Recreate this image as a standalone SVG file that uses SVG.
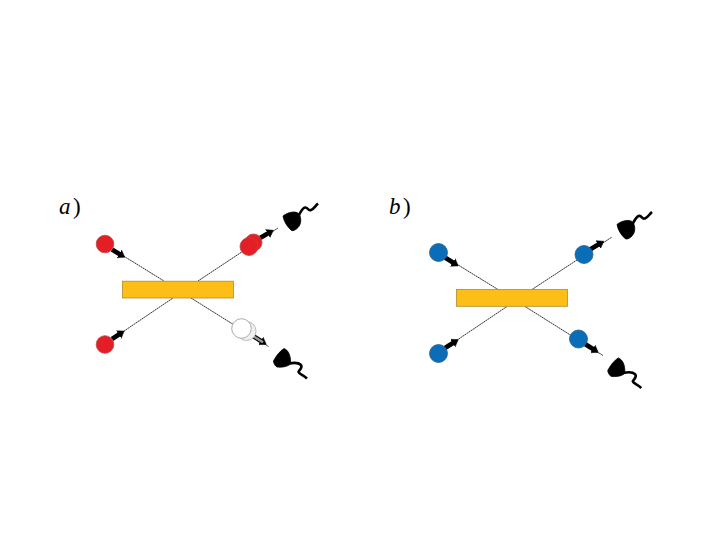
<svg xmlns="http://www.w3.org/2000/svg" xmlns:xlink="http://www.w3.org/1999/xlink" width="717" height="556" viewBox="0 0 717 556">
<style>
.bg{fill:#fff}
.beam{fill:none;stroke:#000;stroke-width:.8;stroke-dasharray:2 .5}
.plate{fill:#fdbf17;stroke:#b08d2a;stroke-width:.8}
.red{fill:#e31e24;stroke:#b9484a;stroke-width:.8}
.blue{fill:#0b6cb8;stroke:#27608f;stroke-width:.8}
.ghost{fill:#fff;stroke:#aaa;stroke-width:1}
.ghost2{fill:#f1f1ee;stroke:#bbb;stroke-width:1}
.arrow{fill:none;stroke:#000;stroke-width:4.600;marker-end:url(#head)}
.arrowg{fill:none;stroke:#999;stroke-width:2.400}
.dome{fill:#000;stroke:#000;stroke-width:.8;stroke-linejoin:round}
.tail{fill:none;stroke:#000;stroke-width:2.600;stroke-linejoin:round}
text{font-family:"Liberation Serif",serif;font-size:23px;fill:#000}
.it{font-style:italic}
</style>
<defs>
<marker id="head" markerUnits="userSpaceOnUse" markerWidth="12" markerHeight="12" refX="2" refY="5" orient="auto"><path d="M0 .5L6.500 5L0 9.500Z" fill="#000" stroke="#000" stroke-width=".4"/></marker>
<g id="detTop">
<path class="dome" d="M283 216C288 212 296 210.500 299 214C301.500 218 301.500 224 298 227.500C296 230 293 231 291.500 230.500C287.500 227 284 222 283 216Z"/>
<path class="tail" d="M298 217C300 213 302 208 305 207.500C308 207 308 211.500 311 210C314 209 315 206 318 203.500"/>
</g>
<g id="detBot">
<path class="dome" d="M273.500 361C276 356 280 351 284 348.500C288 350 291 355 290.500 364C287 367 281 367.500 277 367C275 366 273.500 363 273.500 361Z"/>
<path class="tail" d="M289 363.500C294 362.500 299 363 301 365C303 368 299 370 298.500 372C299 374 303 375 307 378.500"/>
</g>
</defs>
<rect class="bg" width="717" height="556"/>
<g id="connectors">
<path class="beam" d="M113 249.500L164 281"/>
<path class="beam" d="M113 338.500L173 298"/>
<path class="beam" d="M198 281L278 228"/>
<path class="beam" d="M191 298L268.500 346.500"/>
<path class="beam" d="M446 257.500L498 289.500"/>
<path class="beam" d="M446 347.500L507 306.500"/>
<path class="beam" d="M532 289.500L612 237"/>
<path class="beam" d="M525 306.500L603 355.500"/>
</g>
<g id="panel-a">
<text id="label-a" x="59" y="214"><tspan class="it">a</tspan><tspan dx="2.500">)</tspan></text>
<g id="a-in-top"><path class="arrow" d="M112 249.500L121 255"/><circle class="red" cx="105" cy="244" r="8.800"/></g>
<g id="a-in-bottom"><path class="arrow" d="M112 339L120.500 333.500"/><circle class="red" cx="105" cy="344.500" r="8.800"/></g>
<rect id="a-plate" class="plate" x="122.500" y="281.200" width="111" height="16.800"/>
<g id="a-out-top"><path class="arrow" d="M260 238L269.500 232.500"/><circle class="red" cx="253.500" cy="242.500" r="8.500"/><circle class="red" cx="249" cy="246.500" r="9"/></g>
<g id="a-out-bottom"><path class="arrow" d="M253 336L262.500 342"/><path class="arrowg" d="M253 336L263 342.200"/><circle class="ghost2" cx="246.500" cy="331" r="9.500"/><circle class="ghost" cx="241.500" cy="328.500" r="9.800"/></g>
<use id="a-det-top" xlink:href="#detTop"/>
<use id="a-det-bottom" xlink:href="#detBot"/>
</g>
<g id="panel-b">
<text id="label-b" x="389" y="214"><tspan class="it">b</tspan><tspan dx="2.500">)</tspan></text>
<g id="b-in-top"><path class="arrow" d="M445 257.500L454.500 263.500"/><circle class="blue" cx="438.500" cy="252.500" r="9"/></g>
<g id="b-in-bottom"><path class="arrow" d="M445 348L454.500 342"/><circle class="blue" cx="438.500" cy="353.500" r="9"/></g>
<rect id="b-plate" class="plate" x="456.500" y="289.500" width="111" height="16.800"/>
<g id="b-out-top"><path class="arrow" d="M590 249.500L600 243.500"/><circle class="blue" cx="584" cy="254.500" r="9"/></g>
<g id="b-out-bottom"><path class="arrow" d="M585 344L594.500 350"/><circle class="blue" cx="578.500" cy="339" r="9"/></g>
<use id="b-det-top" xlink:href="#detTop" x="334" y="8.400"/>
<use id="b-det-bottom" xlink:href="#detBot" x="334.300" y="9.400"/>
</g>
</svg>
